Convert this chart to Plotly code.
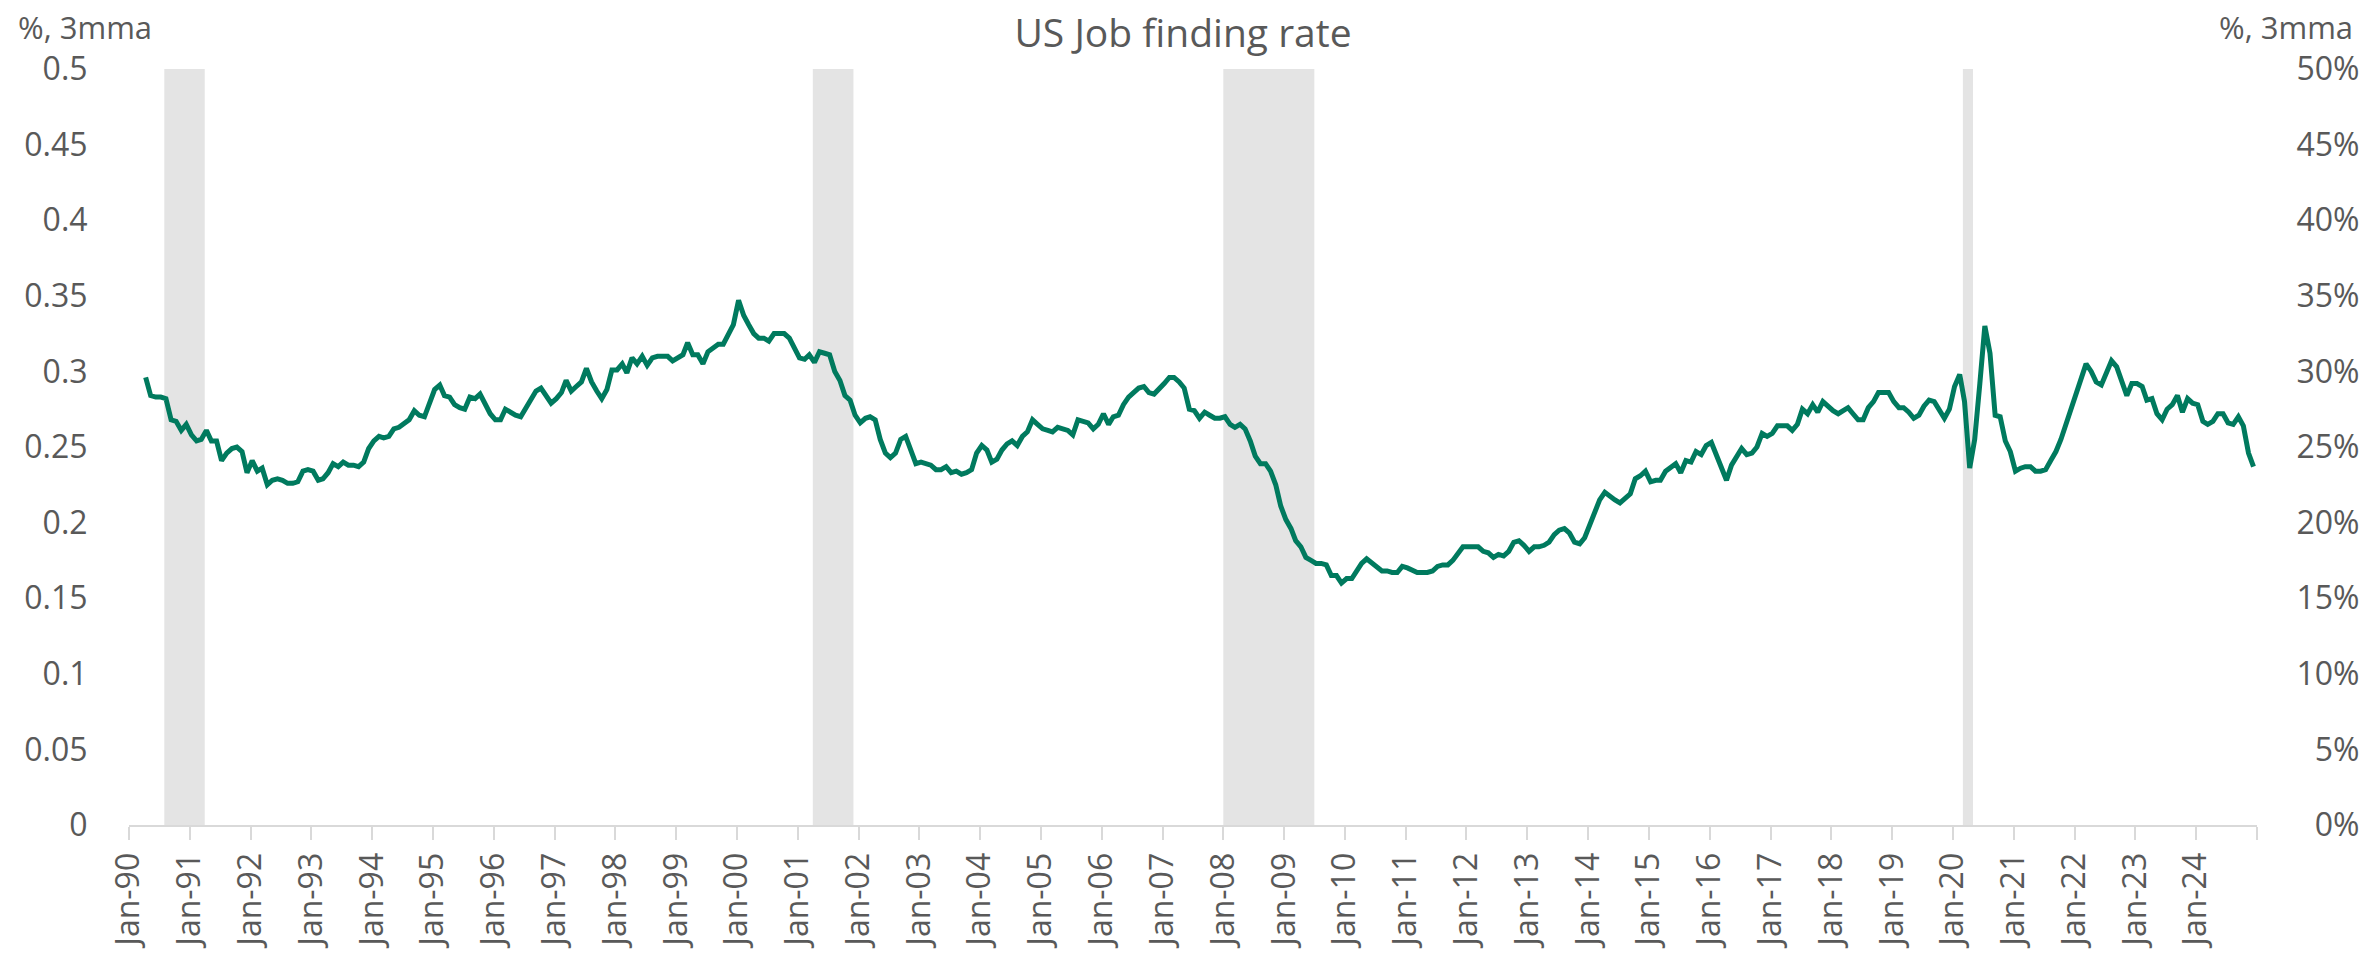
import pandas as pd
import plotly.graph_objects as go

# ---------------- data ----------------
chart_title = "US Job finding rate"
unit_label = "%, 3mma"
first_month = "1990-04-01"   # first monthly observation

# US job finding rate, 3-month moving average (monthly, Apr-1990 .. Dec-2024)
rate_1990 = [0.296, 0.284, 0.283, 0.283, 0.282, 0.268, 0.267, 0.261, 0.265]
rate_1991 = [0.258, 0.254, 0.255, 0.261, 0.254, 0.254, 0.241, 0.246, 0.249, 0.250, 0.247, 0.233]
rate_1992 = [0.241, 0.234, 0.236, 0.225, 0.228, 0.229, 0.228, 0.226, 0.226, 0.227, 0.234, 0.235]
rate_1993 = [0.234, 0.228, 0.229, 0.233, 0.239, 0.237, 0.240, 0.238, 0.238, 0.237, 0.240, 0.249]
rate_1994 = [0.254, 0.257, 0.256, 0.257, 0.262, 0.263, 0.266, 0.268, 0.274, 0.271, 0.270, 0.278]
rate_1995 = [0.288, 0.291, 0.284, 0.283, 0.278, 0.276, 0.275, 0.283, 0.282, 0.285, 0.279, 0.272]
rate_1996 = [0.268, 0.268, 0.275, 0.273, 0.271, 0.270, 0.276, 0.282, 0.287, 0.289, 0.284, 0.279]
rate_1997 = [0.282, 0.286, 0.294, 0.287, 0.290, 0.293, 0.302, 0.293, 0.287, 0.282, 0.288, 0.301]
rate_1998 = [0.301, 0.305, 0.299, 0.309, 0.305, 0.310, 0.304, 0.309, 0.310, 0.310, 0.310, 0.307]
rate_1999 = [0.309, 0.311, 0.319, 0.311, 0.311, 0.305, 0.313, 0.316, 0.318, 0.318, 0.324, 0.331]
rate_2000 = [0.347, 0.337, 0.331, 0.325, 0.322, 0.322, 0.320, 0.325, 0.325, 0.325, 0.322, 0.315]
rate_2001 = [0.309, 0.308, 0.311, 0.306, 0.313, 0.312, 0.311, 0.300, 0.294, 0.284, 0.281, 0.271]
rate_2002 = [0.266, 0.269, 0.270, 0.268, 0.255, 0.246, 0.243, 0.246, 0.255, 0.257, 0.248, 0.239]
rate_2003 = [0.240, 0.239, 0.238, 0.235, 0.235, 0.237, 0.233, 0.234, 0.232, 0.233, 0.235, 0.246]
rate_2004 = [0.251, 0.248, 0.240, 0.242, 0.248, 0.252, 0.254, 0.251, 0.257, 0.260, 0.268, 0.265]
rate_2005 = [0.262, 0.261, 0.260, 0.263, 0.262, 0.261, 0.258, 0.268, 0.267, 0.266, 0.262, 0.265]
rate_2006 = [0.272, 0.265, 0.270, 0.271, 0.278, 0.283, 0.286, 0.289, 0.290, 0.286, 0.285, 0.288]
rate_2007 = [0.292, 0.296, 0.296, 0.293, 0.289, 0.275, 0.274, 0.269, 0.273, 0.271, 0.269, 0.269]
rate_2008 = [0.270, 0.265, 0.263, 0.265, 0.262, 0.254, 0.244, 0.239, 0.239, 0.234, 0.225, 0.211]
rate_2009 = [0.202, 0.196, 0.188, 0.184, 0.177, 0.175, 0.173, 0.173, 0.172, 0.165, 0.165, 0.160]
rate_2010 = [0.163, 0.163, 0.168, 0.173, 0.176, 0.173, 0.170, 0.168, 0.168, 0.167, 0.167, 0.171]
rate_2011 = [0.170, 0.168, 0.167, 0.167, 0.167, 0.168, 0.171, 0.172, 0.172, 0.175, 0.179, 0.184]
rate_2012 = [0.184, 0.184, 0.184, 0.181, 0.180, 0.177, 0.179, 0.178, 0.181, 0.187, 0.188, 0.185]
rate_2013 = [0.181, 0.184, 0.184, 0.185, 0.187, 0.192, 0.195, 0.196, 0.193, 0.187, 0.186, 0.190]
rate_2014 = [0.199, 0.207, 0.215, 0.220, 0.217, 0.215, 0.213, 0.216, 0.219, 0.229, 0.231, 0.234]
rate_2015 = [0.227, 0.228, 0.228, 0.234, 0.236, 0.239, 0.233, 0.241, 0.240, 0.247, 0.245, 0.251]
rate_2016 = [0.253, 0.244, 0.235, 0.228, 0.238, 0.243, 0.249, 0.245, 0.246, 0.250, 0.259, 0.257]
rate_2017 = [0.259, 0.264, 0.264, 0.264, 0.261, 0.265, 0.275, 0.272, 0.278, 0.273, 0.280, 0.277]
rate_2018 = [0.274, 0.272, 0.274, 0.276, 0.272, 0.268, 0.268, 0.276, 0.280, 0.286, 0.286, 0.286]
rate_2019 = [0.280, 0.276, 0.276, 0.273, 0.269, 0.271, 0.277, 0.281, 0.280, 0.274, 0.269, 0.275]
rate_2020 = [0.290, 0.298, 0.280, 0.236, 0.255, 0.292, 0.330, 0.312, 0.271, 0.270, 0.254, 0.247]
rate_2021 = [0.234, 0.236, 0.237, 0.237, 0.234, 0.234, 0.235, 0.241, 0.247, 0.255, 0.265, 0.274]
rate_2022 = [0.284, 0.294, 0.305, 0.300, 0.293, 0.291, 0.299, 0.307, 0.303, 0.293, 0.284, 0.292]
rate_2023 = [0.292, 0.290, 0.281, 0.282, 0.272, 0.268, 0.275, 0.278, 0.284, 0.273, 0.282, 0.279]
rate_2024 = [0.278, 0.267, 0.265, 0.267, 0.272, 0.272, 0.266, 0.265, 0.270, 0.264, 0.246, 0.237]

yearly_blocks = [rate_1990, rate_1991, rate_1992, rate_1993, rate_1994, rate_1995,
                 rate_1996, rate_1997, rate_1998, rate_1999, rate_2000, rate_2001,
                 rate_2002, rate_2003, rate_2004, rate_2005, rate_2006, rate_2007,
                 rate_2008, rate_2009, rate_2010, rate_2011, rate_2012, rate_2013,
                 rate_2014, rate_2015, rate_2016, rate_2017, rate_2018, rate_2019,
                 rate_2020, rate_2021, rate_2022, rate_2023, rate_2024]

# recession shading (as drawn)
recession_start = ["1990-08-01", "2001-04-01", "2008-01-01", "2020-03-01"]
recession_end = ["1991-04-01", "2001-12-01", "2009-07-01", "2020-05-01"]

# axes
x_tick_years = list(range(1990, 2026))
left_tick_values = [0, 0.05, 0.1, 0.15, 0.2, 0.25, 0.3, 0.35, 0.4, 0.45, 0.5]
left_tick_labels = ["0", "0.05", "0.1", "0.15", "0.2", "0.25", "0.3", "0.35", "0.4", "0.45", "0.5"]
right_tick_labels = ["0%", "5%", "10%", "15%", "20%", "25%", "30%", "35%", "40%", "45%", "50%"]

# ---------------- build ----------------
values = [v for block in yearly_blocks for v in block]
dates = pd.date_range(first_month, periods=len(values), freq="MS") + pd.Timedelta(days=10)

LINE = "#007A5E"
TEXT = "#595959"
SHADE = "#E4E4E4"
AXIS = "#D9D9D9"
FONT = "Open Sans, Noto Sans, sans-serif"

fig = go.Figure()
fig.add_trace(go.Scatter(x=dates, y=values, mode="lines",
                         line=dict(color=LINE, width=5), showlegend=False,
                         yaxis="y"))
# same series on the right axis (invisible) so that the % axis is drawn
fig.add_trace(go.Scatter(x=dates, y=values, mode="lines",
                         line=dict(color="rgba(0,0,0,0)", width=0), showlegend=False,
                         hoverinfo="skip", yaxis="y2"))

for s, e in zip(recession_start, recession_end):
    fig.add_shape(type="rect", xref="x", yref="y", x0=s, x1=e, y0=0, y1=0.5,
                  fillcolor=SHADE, line=dict(width=0), layer="below")

tick_dates = [f"{y}-01-01" for y in x_tick_years]
tick_text = [pd.Timestamp(d).strftime("%b-%y") for d in tick_dates[:-1]] + [""]

# right labels padded with a figure space so they line up on the right
right_text = [("\u2007" + t) if len(t) == 2 else t for t in right_tick_labels]

fig.update_layout(
    width=2366, height=953,
    margin=dict(l=129, r=109, t=69, b=128, autoexpand=False),
    paper_bgcolor="white", plot_bgcolor="white",
    font=dict(family=FONT, color=TEXT, size=32),
    title=dict(text=chart_title, x=0.5, xref="container", xanchor="center",
               y=1 - 33 / 953, yref="container", yanchor="middle",
               font=dict(size=39, color=TEXT, family=FONT)),
    xaxis=dict(type="date", range=["1990-01-01", "2025-01-01"],
               tickmode="array", tickvals=tick_dates, ticktext=tick_text,
               tickangle=-90, ticks="outside", ticklen=13, tickwidth=2,
               tickcolor=AXIS, showline=True, linecolor=AXIS, linewidth=2,
               showgrid=False, zeroline=False, automargin=False,
               tickfont=dict(size=32, color=TEXT, family=FONT)),
    yaxis=dict(range=[0, 0.5], tickmode="array", tickvals=left_tick_values,
               ticktext=left_tick_labels, showgrid=False, zeroline=False,
               showline=False, ticks="outside", ticklen=34, automargin=False,
               tickcolor="rgba(0,0,0,0)",
               tickfont=dict(size=32, color=TEXT, family=FONT)),
    yaxis2=dict(range=[0, 0.5], overlaying="y", side="right", tickmode="array",
                tickvals=left_tick_values, ticktext=right_text, showgrid=False,
                zeroline=False, showline=False, ticks="outside", ticklen=32,
                automargin=False, tickcolor="rgba(0,0,0,0)",
                tickfont=dict(size=32, color=TEXT, family=FONT)),
    annotations=[
        dict(text=unit_label, xref="paper", yref="paper", x=-0.0531, y=1.056,
             xanchor="left", yanchor="middle", showarrow=False,
             font=dict(size=31, color=TEXT, family=FONT)),
        dict(text=unit_label, xref="paper", yref="paper", x=1.046, y=1.056,
             xanchor="right", yanchor="middle", showarrow=False,
             font=dict(size=31, color=TEXT, family=FONT)),
    ],
)

fig.write_html("out.html", config={"displayModeBar": False},
               post_script="document.body.style.margin='0';document.body.style.overflow='hidden';")
